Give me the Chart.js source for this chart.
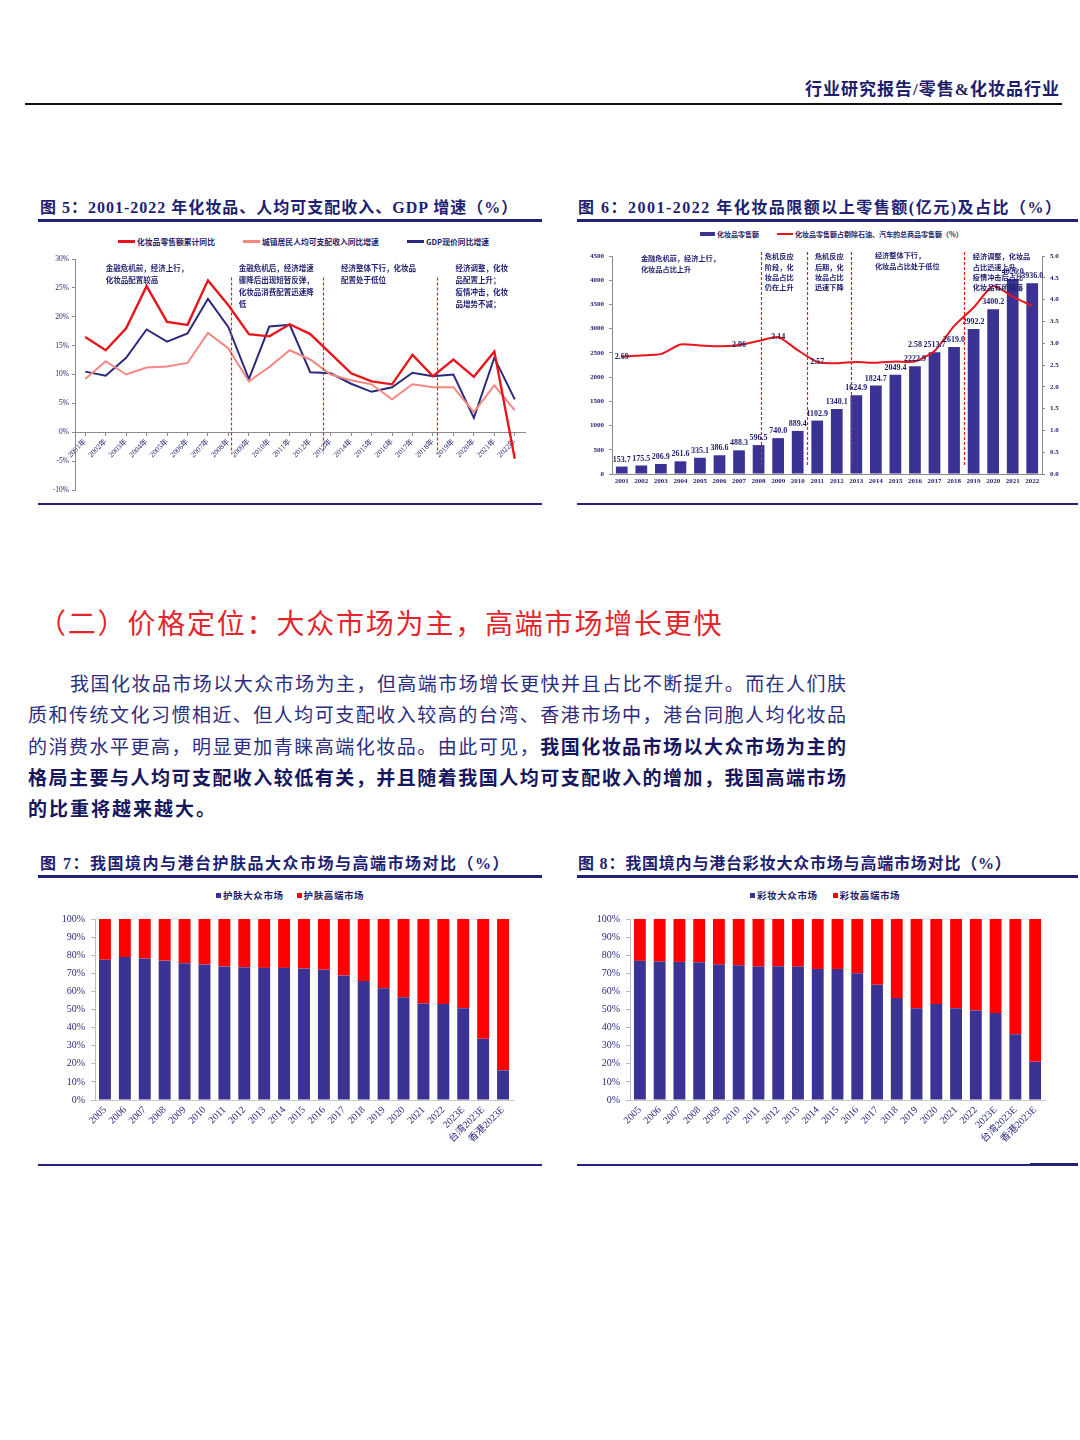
<!DOCTYPE html>
<html lang="zh-CN">
<head>
<meta charset="utf-8">
<title>化妆品行业研究</title>
<script src="https://cdn.jsdelivr.net/npm/chart.js@4.4.1/dist/chart.umd.min.js"></script>
<style>
  html, body { margin: 0; padding: 0; background: #fff; }
  body { position: relative; width: 1080px; height: 1440px; overflow: hidden; font-family: "Liberation Serif", "Noto Sans CJK SC", serif; color: #22227a; }
  .abs { position: absolute; white-space: nowrap; }
  canvas { position: absolute; }
  .header { right: 20px; top: 79px; font-size: 17px; line-height: 22px; font-weight: 700; color: #1d1d6b; letter-spacing: 1px; }
  .title { font-size: 16px; line-height: 20px; font-weight: 700; color: #1e1e72; }
  .rule { position: absolute; background: #22227a; }
  .heading { left: 38px; top: 604px; font-size: 28px; line-height: 36px; color: #e3262b; letter-spacing: 1.8px; font-family: "Noto Sans CJK SC"; }
  .para { position: absolute; white-space: nowrap; font-family: "Noto Sans CJK SC"; font-size: 19px; line-height: 24px; color: #2d2d80; text-align: justify; text-align-last: justify; }
  .para b { color: #17175f; }
  .legend { position: absolute; display: flex; align-items: center; font-family: "Noto Sans CJK SC"; font-weight: 700; color: #1d1d6b; white-space: nowrap; }
  .legend .item { display: flex; align-items: center; }
  .legend .sw { display: inline-block; }
</style>
</head>
<body>

<div class="abs header">行业研究报告/零售&amp;化妆品行业</div>
<div class="rule" style="left:25px;top:103px;width:1037px;height:2px;background:#111;"></div>

<!-- 图5 / 图6 -->
<div class="abs title" style="left:40px;top:198px;letter-spacing:1px;">图 5：2001-2022 年化妆品、人均可支配收入、GDP 增速（%）</div>
<div class="rule" style="left:38px;top:219px;width:504px;height:3px;"></div>
<div class="abs title" style="left:578px;top:198px;letter-spacing:1.5px;">图 6：2001-2022 年化妆品限额以上零售额(亿元)及占比（%）</div>
<div class="rule" style="left:577px;top:219px;width:501px;height:3px;"></div>

<div id="lg5" class="legend" style="left:118px;top:235px;height:12px;font-size:7.8px;"></div>
<div id="lg6" class="legend" style="left:700px;top:228px;height:12px;font-size:7px;"></div>
<canvas id="c5" width="504" height="278" style="left:38px;top:226px;"></canvas>
<canvas id="c6" width="502" height="278" style="left:577px;top:226px;"></canvas>

<div class="rule" style="left:38px;top:503px;width:504px;height:2px;"></div>
<div class="rule" style="left:577px;top:503px;width:501px;height:2px;"></div>

<!-- 正文 -->
<div class="abs heading">（二）价格定位：大众市场为主，高端市场增长更快</div>
<div class="para" style="left:70px;top:671px;width:776px;">我国化妆品市场以大众市场为主，但高端市场增长更快并且占比不断提升。而在人们肤</div>
<div class="para" style="left:28px;top:702px;width:818px;">质和传统文化习惯相近、但人均可支配收入较高的台湾、香港市场中，港台同胞人均化妆品</div>
<div class="para" style="left:28px;top:734px;width:818px;">的消费水平更高，明显更加青睐高端化妆品。由此可见，<b>我国化妆品市场以大众市场为主的</b></div>
<div class="para" style="left:28px;top:765px;width:818px;"><b>格局主要与人均可支配收入较低有关，并且随着我国人均可支配收入的增加，我国高端市场</b></div>
<div class="para" style="left:28px;top:796px;text-align:left;text-align-last:left;letter-spacing:2px;"><b>的比重将越来越大。</b></div>

<!-- 图7 / 图8 -->
<div class="abs title" style="left:40px;top:854px;letter-spacing:1.5px;">图 7：我国境内与港台护肤品大众市场与高端市场对比（%）</div>
<div class="rule" style="left:38px;top:875px;width:504px;height:3px;"></div>
<div class="abs title" style="left:578px;top:854px;letter-spacing:0.8px;">图 8：我国境内与港台彩妆大众市场与高端市场对比（%）</div>
<div class="rule" style="left:577px;top:875px;width:501px;height:3px;"></div>

<div id="lg7" class="legend" style="left:216px;top:888px;height:14px;font-size:9.5px;letter-spacing:0.6px;"></div>
<div id="lg8" class="legend" style="left:750px;top:888px;height:14px;font-size:9.5px;letter-spacing:0.6px;"></div>
<canvas id="c7" width="504" height="280" style="left:38px;top:882px;"></canvas>
<canvas id="c8" width="502" height="280" style="left:577px;top:882px;"></canvas>

<div class="rule" style="left:38px;top:1164px;width:504px;height:2px;"></div>
<div class="rule" style="left:577px;top:1164px;width:501px;height:2px;"></div>
<div class="rule" style="left:1030px;top:1163px;width:48px;height:3px;"></div>

<script>
// ---- 图5 数据：增速（%）
const yearsA = ['2001年', '2002年', '2003年', '2004年', '2005年', '2006年', '2007年', '2008年', '2009年', '2010年', '2011年',
  '2012年', '2013年', '2014年', '2015年', '2016年', '2017年', '2018年', '2019年', '2020年', '2021年', '2022年'];
const cosmeticsGrowth = [16.5, 14.2, 18.0, 25.3, 19.1, 18.6, 26.3, 22.0, 17.0, 16.6, 18.7, 17.0, 13.6, 10.2, 8.8, 8.3, 13.4, 9.7, 12.6, 9.6, 14.0, -4.6];
const incomeGrowth = [9.2, 12.3, 10.0, 11.2, 11.4, 12.0, 17.2, 14.5, 8.8, 11.3, 14.2, 12.6, 10.0, 9.0, 8.3, 5.7, 8.3, 7.8, 7.8, 3.5, 8.1, 3.8];
const gdpGrowth = [10.5, 9.8, 12.9, 17.8, 15.7, 17.1, 23.1, 18.2, 9.2, 18.3, 18.6, 10.4, 10.2, 8.4, 7.0, 7.8, 10.3, 9.7, 10.0, 2.5, 12.9, 5.7];

// ---- 图6 数据：零售额（亿元）及占比（%）
const yearsB = ['2001', '2002', '2003', '2004', '2005', '2006', '2007', '2008', '2009', '2010', '2011',
  '2012', '2013', '2014', '2015', '2016', '2017', '2018', '2019', '2020', '2021', '2022'];
const retailSales = [153.7, 175.5, 206.9, 261.6, 335.1, 386.6, 488.3, 596.5, 740.0, 889.4, 1102.9,
  1340.1, 1624.9, 1824.7, 2049.4, 2222.9, 2513.7, 2619.0, 2992.2, 3400.2, 4026.0, 3936.0];
const retailShare = [2.69, 2.72, 2.75, 2.97, 2.95, 2.93, 2.96, 3.05, 3.14, 2.84, 2.57, 2.54, 2.57, 2.55, 2.58, 2.58, 2.82, 3.39, 3.82, 4.31, 4.07, 3.86];
const shareLabelIdx = [0, 6, 8, 10, 15];

// ---- 图7 / 图8 数据：大众 vs 高端（%）
const marketLabels = ['2005', '2006', '2007', '2008', '2009', '2010', '2011', '2012', '2013', '2014', '2015', '2016',
  '2017', '2018', '2019', '2020', '2021', '2022', '2023E', '台湾2023E', '香港2023E'];
const skinMass = [77.5, 79.0, 78.2, 77.0, 75.6, 74.9, 73.8, 73.4, 73.0, 73.0, 72.7, 72.0, 68.8, 65.7, 61.8, 56.8, 53.3, 53.0, 50.7, 33.8, 16.4];
const skinPremium = [22.5, 21.0, 21.8, 23.0, 24.4, 25.1, 26.2, 26.6, 27.0, 27.0, 27.3, 28.0, 31.2, 34.3, 38.2, 43.2, 46.7, 47.0, 49.3, 66.2, 83.6];
const makeupMass = [76.9, 76.5, 76.3, 76.1, 74.8, 74.4, 73.7, 73.9, 73.7, 72.4, 72.4, 70.0, 63.7, 56.3, 50.7, 53.1, 50.7, 49.4, 48.1, 36.3, 21.1];
const makeupPremium = [23.1, 23.5, 23.7, 23.9, 25.2, 25.6, 26.3, 26.1, 26.3, 27.6, 27.6, 30.0, 36.3, 43.7, 49.3, 46.9, 49.3, 50.6, 51.9, 63.7, 78.9];

// 阶段注释（文字）
const notes5 = [
  { at: 1.0, top: 28.4, lines: ['金融危机前，经济上行，', '化妆品配置较高'] },
  { at: 7.5, top: 28.4, lines: ['金融危机后，经济增速', '骤降后出现短暂反弹，', '化妆品消费配置迅速降', '低'] },
  { at: 12.5, top: 28.4, lines: ['经济整体下行，化妆品', '配置处于低位'] },
  { at: 18.1, top: 28.4, lines: ['经济调整，化妆', '品配置上升；', '疫情冲击，化妆', '品增势不减；'] }
];
const notes6 = [
  { at: 0.98, top: 4450, lines: ['金融危机前，经济上行，', '化妆品占比上升'] },
  { at: 7.32, top: 4490, lines: ['危机反应', '阶段，化', '妆品占比', '仍在上升'] },
  { at: 9.88, top: 4490, lines: ['危机反应', '后期，化', '妆品占比', '迅速下降'] },
  { at: 12.95, top: 4510, lines: ['经济整体下行，', '化妆品占比处于低位'] },
  { at: 17.96, top: 4490, lines: ['经济调整，化妆品', '占比迅速上升，', '疫情冲击后占比', '化妆品有所回落'] }
];

const NAVY = '#1d1d6e';
const SERIF = '"Liberation Serif", "Noto Sans CJK SC", serif';
const CJK = '"Noto Sans CJK SC", sans-serif';
Chart.defaults.font.family = SERIF;
Chart.defaults.color = NAVY;

// 红色虚线分段
function guidePlugin(at, from, to, axis) {
  return {
    id: 'guides',
    afterDatasetsDraw(chart) {
      const ctx = chart.ctx, x = chart.scales.x, y = chart.scales[axis];
      ctx.save();
      ctx.strokeStyle = '#f01818';
      ctx.lineWidth = 1.2;
      ctx.setLineDash([3, 2]);
      at.forEach(v => {
        const px = Math.round(x.getPixelForValue(v)) + 0.5;
        ctx.beginPath();
        ctx.moveTo(px, y.getPixelForValue(from));
        ctx.lineTo(px, y.getPixelForValue(to));
        ctx.stroke();
      });
      ctx.restore();
    }
  };
}

function notePlugin(notes, axis, gap, size) {
  return {
    id: 'notes',
    afterDraw(chart) {
      const ctx = chart.ctx, x = chart.scales.x, y = chart.scales[axis];
      ctx.save();
      ctx.font = 'bold ' + size + 'px ' + CJK;
      ctx.fillStyle = NAVY;
      ctx.textBaseline = 'middle';
      notes.forEach(n => {
        const px = x.getPixelForValue(n.at), py = y.getPixelForValue(n.top);
        n.lines.forEach((t, i) => ctx.fillText(t, px, py + i * gap));
      });
      ctx.restore();
    }
  };
}

// 图6 柱顶数值与占比标注
const valueLabels = {
  id: 'valueLabels',
  afterDatasetsDraw(chart) {
    const ctx = chart.ctx;
    ctx.save();
    ctx.font = 'bold 8px ' + SERIF;
    ctx.fillStyle = NAVY;
    ctx.textAlign = 'center';
    ctx.textBaseline = 'bottom';
    chart.getDatasetMeta(0).data.forEach((bar, i) => {
      ctx.fillText(retailSales[i].toFixed(1), bar.x, bar.y - 3);
    });
    ctx.textBaseline = 'middle';
    const pts = chart.getDatasetMeta(1).data;
    shareLabelIdx.forEach(i => {
      const lift = i === 15 ? 17 : 0;
      ctx.fillText(retailShare[i].toFixed(2), pts[i].x, pts[i].y - lift);
    });
    ctx.restore();
  }
};

function buildLegend(elId, chart, cfg) {
  const box = document.getElementById(elId);
  box.style.gap = cfg.gap + 'px';
  chart.data.datasets.forEach(ds => {
    const item = document.createElement('span');
    item.className = 'item';
    const sw = document.createElement('span');
    sw.className = 'sw';
    const isLine = (ds.type || chart.config.type) === 'line';
    const dim = isLine ? cfg.line : cfg.box;
    sw.style.width = dim[0] + 'px';
    sw.style.height = dim[1] + 'px';
    sw.style.background = isLine ? ds.borderColor : ds.backgroundColor;
    sw.style.marginRight = cfg.space + 'px';
    item.append(sw, document.createTextNode(ds.label));
    box.appendChild(item);
  });
}

const axisGray = '#8a8a8a';

// 图5
const chart5 = new Chart(document.getElementById('c5'), {
  type: 'line',
  data: {
    labels: yearsA,
    datasets: [
      { label: '化妆品零售额累计同比', data: cosmeticsGrowth, borderColor: '#e8161b', backgroundColor: '#e8161b', borderWidth: 2.4 },
      { label: '城镇居民人均可支配收入同比增速', data: incomeGrowth, borderColor: '#f4877f', backgroundColor: '#f4877f', borderWidth: 2 },
      { label: 'GDP现价同比增速', data: gdpGrowth, borderColor: '#2b2a7e', backgroundColor: '#2b2a7e', borderWidth: 2 }
    ]
  },
  options: {
    responsive: false,
    animation: false,
    elements: { point: { radius: 0 }, line: { tension: 0 } },
    layout: { padding: { top: 33, bottom: 14, left: 0, right: 17 } },
    plugins: { legend: { display: false }, tooltip: { enabled: false } },
    scales: {
      x: {
        position: { y: 0 },
        offset: true,
        grid: { drawOnChartArea: false, tickLength: 3, color: axisGray },
        border: { color: axisGray },
        ticks: { autoSkip: false, minRotation: 45, maxRotation: 45, font: { size: 7.5 }, padding: 2 }
      },
      y: {
        min: -10, max: 30,
        grid: { drawOnChartArea: false, tickLength: 3, color: axisGray },
        border: { color: axisGray },
        ticks: { stepSize: 5, font: { size: 7.5 }, callback: v => v + '%' },
        afterFit: s => { s.width = 37; }
      }
    }
  },
  plugins: [guidePlugin([7.11, 11.61, 17.22], 26.8, -3.7, 'y'), notePlugin(notes5, 'y', 12, 7.5)]
});
buildLegend('lg5', chart5, { gap: 28, space: 2, line: [17, 3], box: [17, 3] });

// 图6
const chart6 = new Chart(document.getElementById('c6'), {
  type: 'bar',
  data: {
    labels: yearsB,
    datasets: [
      { label: '化妆品零售额', data: retailSales, backgroundColor: '#3a3393', barPercentage: 0.6, categoryPercentage: 1, yAxisID: 'y', order: 2 },
      { type: 'line', label: '化妆品零售额占剔除石油、汽车的总商品零售额（%）', data: retailShare, borderColor: '#e8161b', backgroundColor: '#e8161b',
        borderWidth: 2, pointRadius: 0, tension: 0.2, yAxisID: 'y1', order: 1 }
    ]
  },
  options: {
    responsive: false,
    animation: false,
    layout: { padding: { top: 30, bottom: 14, left: 0, right: 0 } },
    plugins: { legend: { display: false }, tooltip: { enabled: false } },
    scales: {
      x: {
        grid: { display: false, drawTicks: false },
        border: { color: axisGray },
        ticks: { autoSkip: false, maxRotation: 0, font: { size: 7, weight: 'bold' }, padding: 3 },
        afterFit: s => { s.height = 16; }
      },
      y: {
        min: 0, max: 4500,
        grid: { drawOnChartArea: false, tickLength: 3, color: axisGray },
        border: { color: axisGray },
        ticks: { stepSize: 500, font: { size: 7, weight: 'bold' }, padding: 5, callback: v => String(v) },
        afterFit: s => { s.width = 35; }
      },
      y1: {
        position: 'right',
        min: 0, max: 5,
        grid: { drawOnChartArea: false, tickLength: 3, color: axisGray },
        border: { color: axisGray },
        ticks: { stepSize: 0.5, font: { size: 7, weight: 'bold' }, padding: 5, callback: v => v.toFixed(1) },
        afterFit: s => { s.width = 37; }
      }
    }
  },
  plugins: [valueLabels, guidePlugin([7.12, 9.46, 11.72, 17.53], 4580, 150, 'y'), notePlugin(notes6, 'y', 10.4, 7.2)]
});
buildLegend('lg6', chart6, { gap: 18, space: 2, line: [16, 2], box: [15, 4] });

// 图7 / 图8：100% 堆积柱
function stackedChart(id, mass, premium, names, yWidth, padRight) {
  return new Chart(document.getElementById(id), {
    type: 'bar',
    data: {
      labels: marketLabels,
      datasets: [
        { label: names[0], data: mass, backgroundColor: '#3a3393', barPercentage: 0.6, categoryPercentage: 1 },
        { label: names[1], data: premium, backgroundColor: '#ff0000', barPercentage: 0.6, categoryPercentage: 1 }
      ]
    },
    options: {
      responsive: false,
      animation: false,
      layout: { padding: { top: 37, bottom: 12, left: 0, right: padRight } },
      plugins: { legend: { display: false }, tooltip: { enabled: false } },
      scales: {
        x: {
          stacked: true,
          grid: { display: false, drawTicks: false },
          border: { color: '#c8c8c8' },
          ticks: { autoSkip: false, minRotation: 45, maxRotation: 45, font: { size: 10 }, padding: 4, color: '#2a2a80' },
          afterFit: s => { s.height = 50; }
        },
        y: {
          stacked: true,
          min: 0, max: 100,
          grid: { drawOnChartArea: false, tickLength: 4, color: '#bdbdbd' },
          border: { color: '#bdbdbd' },
          ticks: { stepSize: 10, font: { size: 10 }, padding: 6, color: '#2a2a80', callback: v => v + '%' },
          afterFit: s => { s.width = yWidth; }
        }
      }
    }
  });
}

const chart7 = stackedChart('c7', skinMass, skinPremium, ['护肤大众市场', '护肤高端市场'], 57, 29);
buildLegend('lg7', chart7, { gap: 13, space: 2, line: [5, 5], box: [5, 5] });
const chart8 = stackedChart('c8', makeupMass, makeupPremium, ['彩妆大众市场', '彩妆高端市场'], 53, 34);
buildLegend('lg8', chart8, { gap: 15, space: 2, line: [5, 5], box: [5, 5] });
</script>
</body>
</html>
